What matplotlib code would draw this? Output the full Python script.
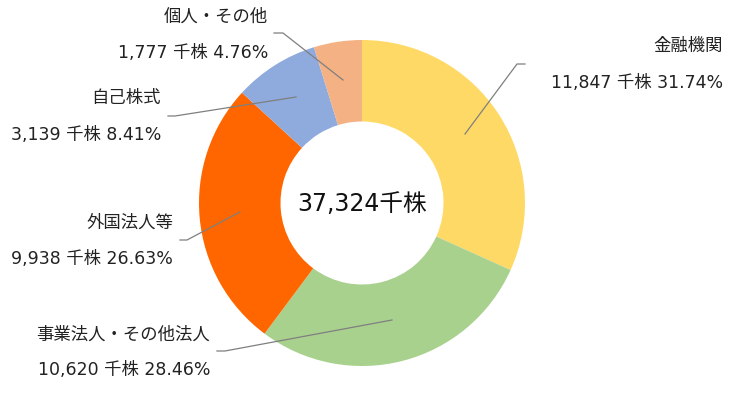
import matplotlib
matplotlib.use("Agg")
import matplotlib.pyplot as plt

# DejaVu for the Latin digits (wide, like the original), Noto CJK for kanji/kana
plt.rcParams['font.family'] = ['DejaVu Sans', 'Noto Sans CJK JP']

# data
categories = ['金融機関', '事業法人・その他法人', '外国法人等', '自己株式', '個人・その他']
shares = [11847, 10620, 9938, 3139, 1777]
percents = ['31.74%', '28.46%', '26.63%', '8.41%', '4.76%']
colors = ['#FFD966', '#A9D18E', '#FF6600', '#8FAADC', '#F4B183']
total_label = '37,324千株'

W, H = 741, 406
fig = plt.figure(figsize=(W / 100, H / 100), dpi=100)
ax = fig.add_axes([0, 0, 1, 1])

cx, cy, r = 362, H - 204, 163
ax.pie(shares, colors=colors, startangle=90, counterclock=False,
       center=(cx, cy), radius=r, frame=True,
       wedgeprops=dict(width=r * 0.5, linewidth=0))
ax.set_xlim(0, W)
ax.set_ylim(0, H)
ax.axis('off')

ax.text(cx, cy, total_label, ha='center', va='center', fontsize=17,
        color='#111111')

# label positions in pixel coords (x right edge, y first line, y second line)
label_pos = [
    (723, 46, 83),
    (210, 335, 370),
    (173, 223, 259),
    (161, 98, 135),
    (268, 17, 53),
]
# leader lines: text end -> elbow -> point on slice
leaders = [
    [(525, 65), (517, 65), (465, 135)],
    [(217, 352), (225, 352), (392, 321)],
    [(180, 241), (187, 241), (240, 213)],
    [(168, 117), (175, 117), (296, 98)],
    [(274, 34), (283, 34), (343, 81)],
]

for name, val, pct, (tx, y1, y2), pts in zip(categories, shares, percents,
                                            label_pos, leaders):
    ax.text(tx, H - y1, name, ha='right', va='center', fontsize=12.5,
            color='#222222')
    ax.text(tx, H - y2, f'{val:,} 千株 {pct}', ha='right', va='center',
            fontsize=12.5, color='#222222')
    xs = [p[0] for p in pts]
    ys = [H - p[1] for p in pts]
    ax.plot(xs, ys, color='#7F7F7F', linewidth=0.9)

fig.savefig('out.png', dpi=100)
